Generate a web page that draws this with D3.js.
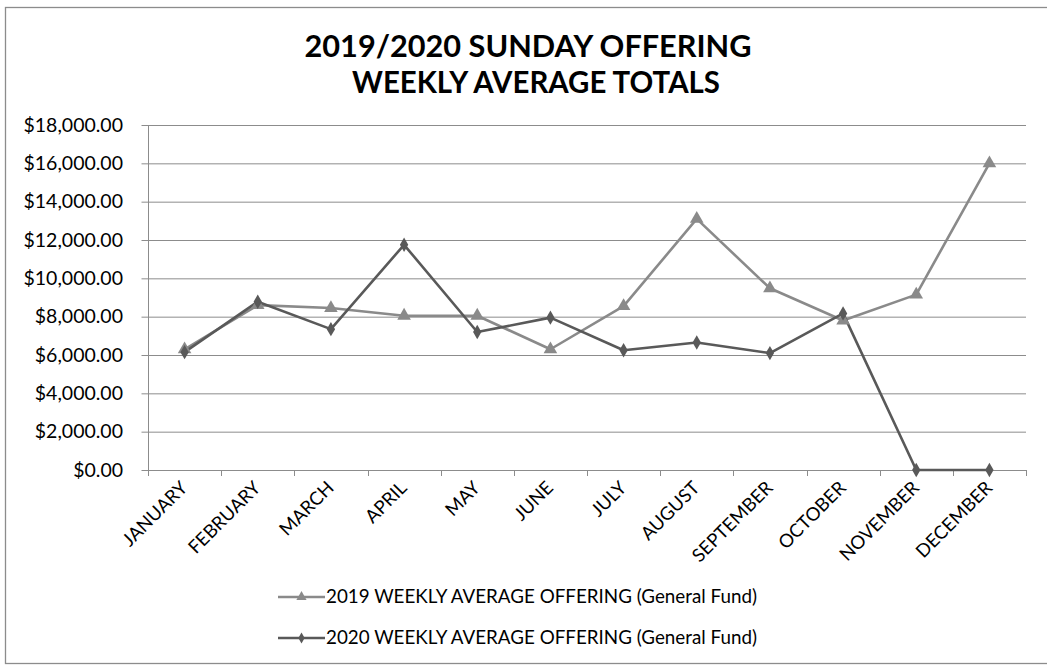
<!DOCTYPE html>
<html>
<head>
<meta charset="utf-8">
<script src="https://cdn.jsdelivr.net/npm/d3@7"></script>
<style>
  html, body { margin: 0; padding: 0; background: #fff; }
  svg { display: block; }
  text { font-family: Lato, "Open Sans", sans-serif; fill: #000; }
</style>
</head>
<body>
<svg id="chart" width="1047" height="665"></svg>
<script>
const months = ["JANUARY","FEBRUARY","MARCH","APRIL","MAY","JUNE","JULY","AUGUST","SEPTEMBER","OCTOBER","NOVEMBER","DECEMBER"];
const offering2019 = [6300, 8600, 8450, 8050, 8050, 6300, 8550, 13100, 9480, 7800, 9150, 16000];
const offering2020 = [6150, 8780, 7350, 11750, 7200, 7950, 6250, 6650, 6100, 8170, 0, 0];
const yTicks = [0, 2000, 4000, 6000, 8000, 10000, 12000, 14000, 16000, 18000];
const titleLines = ["2019/2020 SUNDAY OFFERING", "WEEKLY AVERAGE TOTALS"];
const seriesNames = ["2019 WEEKLY AVERAGE OFFERING (General Fund)", "2020 WEEKLY AVERAGE OFFERING (General Fund)"];

(function () {
const svg = d3.select("#chart");
const gridColor = "#8c8c8c";
const c2019 = "#8a8a8a";
const c2020 = "#595959";

// chart border (right edge lies beyond the picture, as in the reference)
svg.append("rect").attr("x", 5.5).attr("y", 7.5).attr("width", 1060).attr("height", 656)
  .attr("fill", "none").attr("stroke", "#8c8c8c").attr("stroke-width", 1.3);

// title
const titleY = [57, 93];
const titleW = [447, 368];
titleLines.forEach((t, i) => {
  svg.append("text").attr("x", 528 + (i ? 8 : 0)).attr("y", titleY[i])
    .attr("text-anchor", "middle").attr("font-weight", 700).attr("font-size", 30.5)
    .attr("textLength", titleW[i]).attr("lengthAdjust", "spacingAndGlyphs")
    .text(t);
});

const pLeft = 148, pRight = 1026, pTop = 125, pBottom = 470;
const x = d3.scaleBand().domain(months).range([pLeft, pRight]);
const y = d3.scaleLinear().domain([0, 18000]).range([pBottom, pTop]);
const cx = m => x(m) + x.bandwidth() / 2;

// gridlines + y axis
const yAxis = d3.axisLeft(y).tickValues(yTicks).tickSize(-(pRight - pLeft) - 6.5).tickPadding(19)
  .tickFormat(d => "$" + d3.format(",.2f")(d));
const gy = svg.append("g").attr("transform", `translate(${pLeft - 6.5},0)`).call(yAxis);
gy.select(".domain").remove();
gy.selectAll(".tick line").attr("stroke", gridColor).attr("stroke-width", 1);
gy.selectAll(".tick text").attr("font-size", 19.5).attr("fill", "#000")
  .attr("font-family", "Lato, sans-serif")
  .attr("x", 123 - (pLeft - 6.5)).attr("text-anchor", "end");

svg.append("line").attr("x1", pLeft + 0.5).attr("x2", pLeft + 0.5).attr("y1", pTop).attr("y2", pBottom)
  .attr("stroke", gridColor).attr("stroke-width", 1);

// x axis ticks at category boundaries
const bounds = months.map(m => x(m)).concat([pRight]);
svg.selectAll("line.xt").data(bounds).join("line").attr("class","xt")
  .attr("x1", d => Math.round(d) + 0.5).attr("x2", d => Math.round(d) + 0.5)
  .attr("y1", pBottom).attr("y2", pBottom + 6).attr("stroke", gridColor);

// x labels rotated
svg.selectAll("text.xl").data(months).join("text").attr("class","xl")
  .attr("font-size", 18.5).attr("text-anchor", "end")
  .attr("transform", d => `translate(${cx(d) + 4},${pBottom + 19}) rotate(-45)`)
  .text(d => d);

// lines
const line = d3.line().x((d, i) => cx(months[i])).y(d => y(d));
svg.append("path").datum(offering2019).attr("d", line).attr("fill","none")
  .attr("stroke", c2019).attr("stroke-width", 2.6).attr("stroke-linejoin","round");
svg.append("path").datum(offering2020).attr("d", line).attr("fill","none")
  .attr("stroke", c2020).attr("stroke-width", 2.6).attr("stroke-linejoin","round");

const tri = d3.symbol().type(d3.symbolTriangle).size(80);
const dia = d3.symbol().type(d3.symbolDiamond).size(60);

svg.selectAll("path.m19").data(offering2019).join("path").attr("class","m19")
  .attr("d", tri).attr("fill", c2019)
  .attr("transform", (d, i) => `translate(${cx(months[i])},${y(d)})`);
svg.selectAll("path.m20").data(offering2020).join("path").attr("class","m20")
  .attr("d", dia).attr("fill", c2020)
  .attr("transform", (d, i) => `translate(${cx(months[i])},${y(d)})`);

// legend
const legY = [597, 638];
const legColors = [c2019, c2020];
const legSym = [d3.symbol().type(d3.symbolTriangle).size(45), d3.symbol().type(d3.symbolDiamond).size(35)];
seriesNames.forEach((n, i) => {
  svg.append("line").attr("x1", 278).attr("x2", 325).attr("y1", legY[i]).attr("y2", legY[i])
    .attr("stroke", legColors[i]).attr("stroke-width", 2.6);
  svg.append("path").attr("d", legSym[i]).attr("fill", legColors[i])
    .attr("transform", `translate(301.5,${legY[i]})`);
  svg.append("text").attr("x", 326).attr("y", legY[i] + 6).attr("font-size", 18.5)
    .attr("textLength", 431).attr("lengthAdjust", "spacingAndGlyphs")
    .text(n);
});
})();
</script>
</body>
</html>
